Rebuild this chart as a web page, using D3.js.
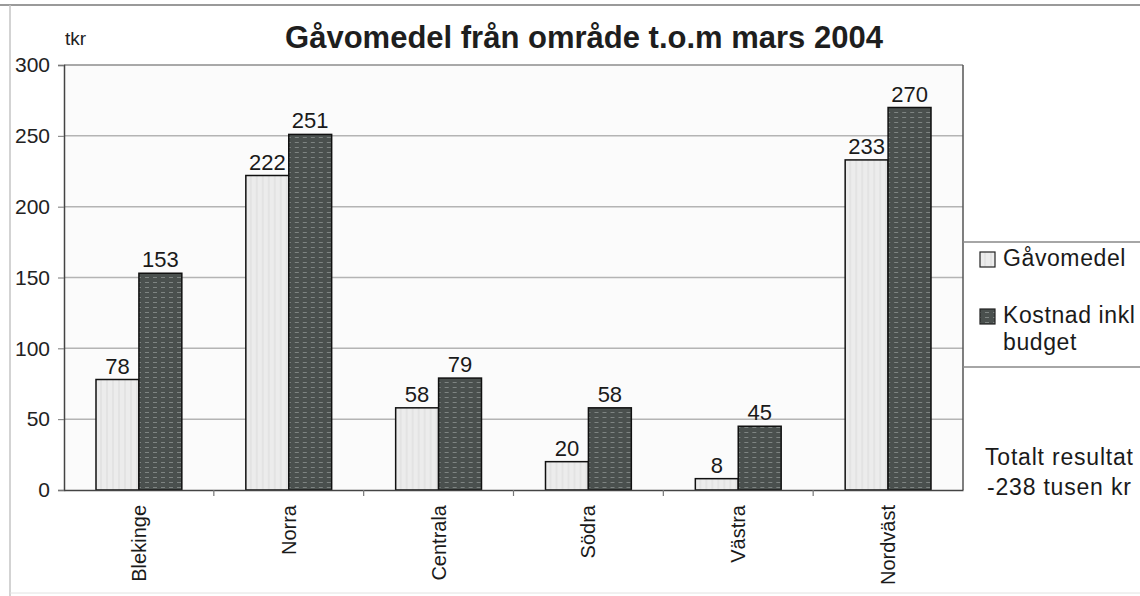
<!DOCTYPE html>
<html>
<head>
<meta charset="utf-8">
<script src="https://cdn.jsdelivr.net/npm/d3@7"></script>
<style>
  html, body { margin: 0; padding: 0; background: #ffffff; }
  svg { display: block; font-family: "Liberation Sans", Arial, Helvetica, sans-serif; }
</style>
</head>
<body>
<svg id="chart" width="1140" height="596"></svg>
<script>
const categories = ["Blekinge", "Norra", "Centrala", "Södra", "Västra", "Nordväst"];
const seriesNames = ["Gåvomedel", "Kostnad inkl budget"];
const gavomedel = [78, 222, 58, 20, 8, 233];
const kostnad = [153, 251, 79, 58, 45, 270];
const yTicks = [0, 50, 100, 150, 200, 250, 300];
const titleText = "Gåvomedel från område t.o.m mars 2004";
const unitText = "tkr";
const noteLines = ["Totalt resultat", "-238 tusen kr"];

const FONT = "'Liberation Sans', Arial, Helvetica, sans-serif";
const svg = d3.select("#chart");
const W = 1140, H = 596;
const plot = { left: 64, right: 963, top: 65, bottom: 490 };

const defs = svg.append("defs");
const pl = defs.append("pattern").attr("id", "pLight").attr("patternUnits", "userSpaceOnUse")
  .attr("width", 6).attr("height", 6);
pl.append("rect").attr("width", 6).attr("height", 6).attr("fill", "#ececec");
pl.append("rect").attr("x", 0).attr("width", 2).attr("height", 6).attr("fill", "#e3e3e3");
const pd = defs.append("pattern").attr("id", "pDark").attr("patternUnits", "userSpaceOnUse")
  .attr("width", 8).attr("height", 5);
pd.append("rect").attr("width", 8).attr("height", 5).attr("fill", "#4a504e");
pd.append("rect").attr("x", 1).attr("y", 2).attr("width", 4).attr("height", 1).attr("fill", "#7e8482");

// outer frame lines
svg.append("line").attr("x1", 0).attr("x2", W).attr("y1", 5).attr("y2", 5)
  .attr("stroke", "#9a9a9a").attr("stroke-width", 2);
svg.append("line").attr("x1", 10).attr("x2", 10).attr("y1", 5).attr("y2", H)
  .attr("stroke", "#c4c4c4").attr("stroke-width", 1.5);
svg.append("line").attr("x1", 10).attr("x2", W).attr("y1", 593).attr("y2", 593)
  .attr("stroke", "#e2e2e2").attr("stroke-width", 1);

const x0 = d3.scaleBand().domain(categories).range([plot.left, plot.right]).padding(0);
const x1 = d3.scaleBand().domain(seriesNames).range([32, x0.bandwidth() - 32]).padding(0);
const y = d3.scaleLinear().domain([0, 300]).range([plot.bottom, plot.top]);

svg.append("rect").attr("x", plot.left).attr("y", plot.top)
  .attr("width", plot.right - plot.left).attr("height", plot.bottom - plot.top)
  .attr("fill", "#fbfbfb");

svg.append("g").selectAll("line").data(yTicks.filter(d => d > 0)).join("line")
  .attr("x1", plot.left).attr("x2", plot.right)
  .attr("y1", d => y(d)).attr("y2", d => y(d))
  .attr("stroke", d => d === 300 ? "#8c8c8c" : "#b4b4b4").attr("stroke-width", 1.5);

svg.append("line").attr("x1", plot.right).attr("x2", plot.right)
  .attr("y1", plot.top).attr("y2", plot.bottom).attr("stroke", "#555").attr("stroke-width", 1.5);

const yAxis = d3.axisLeft(y).tickValues(yTicks).tickSize(6).tickPadding(8);
const gy = svg.append("g").attr("transform", `translate(${plot.left},0)`).call(yAxis)
  .attr("font-family", FONT);
gy.select(".domain").attr("stroke", "#444").attr("stroke-width", 1.5);
gy.selectAll(".tick line").attr("stroke", "#777");
gy.selectAll(".tick text").attr("font-size", 21).attr("fill", "#222");

const groups = svg.append("g").selectAll("g").data(categories).join("g")
  .attr("transform", d => `translate(${x0(d)},0)`);
groups.each(function (c, i) {
  const g = d3.select(this);
  const bd = [
    { s: seriesNames[0], v: gavomedel[i] },
    { s: seriesNames[1], v: kostnad[i] }
  ];
  g.selectAll("rect").data(bd).join("rect")
    .attr("x", d => x1(d.s)).attr("width", x1.bandwidth())
    .attr("y", d => y(d.v)).attr("height", d => y(0) - y(d.v))
    .attr("fill", d => d.s === seriesNames[0] ? "url(#pLight)" : "url(#pDark)")
    .attr("stroke", "#111").attr("stroke-width", 1.5);
  g.selectAll("text").data(bd).join("text")
    .attr("x", d => x1(d.s) + x1.bandwidth() / 2)
    .attr("y", d => y(d.v) - 6)
    .attr("text-anchor", "middle").attr("font-size", 22).attr("fill", "#1a1a1a")
    .text(d => d.v);
});

const xAxis = d3.axisBottom(x0).tickSize(0).tickPadding(0).tickFormat("");
const gx = svg.append("g").attr("transform", `translate(0,${plot.bottom})`).call(xAxis);
gx.select(".domain").attr("stroke", "#444").attr("stroke-width", 1.5);
svg.append("g").selectAll("line").data(categories.slice(1)).join("line")
  .attr("x1", d => x0(d)).attr("x2", d => x0(d))
  .attr("y1", plot.bottom).attr("y2", plot.bottom + 6)
  .attr("stroke", "#777").attr("stroke-width", 1.2);
svg.append("g").selectAll("text").data(categories).join("text")
  .attr("transform", d => `translate(${x0(d) + x0.bandwidth() / 2 + 7},505) rotate(-90)`)
  .attr("text-anchor", "end").attr("font-size", 20).attr("fill", "#1a1a1a")
  .text(d => d);

svg.append("text").attr("x", 584).attr("y", 48).attr("text-anchor", "middle")
  .attr("font-size", 31).attr("font-weight", "bold").attr("fill", "#1e1e1e")
  .text(titleText);
svg.append("text").attr("x", 65).attr("y", 45).attr("font-size", 19).attr("fill", "#222")
  .text(unitText);

svg.append("line").attr("x1", plot.right).attr("x2", W).attr("y1", 242).attr("y2", 242)
  .attr("stroke", "#888").attr("stroke-width", 1.5);
svg.append("line").attr("x1", plot.right).attr("x2", W).attr("y1", 367).attr("y2", 367)
  .attr("stroke", "#888").attr("stroke-width", 1.5);
const legendItems = [
  { lines: ["Gåvomedel"], fill: "url(#pLight)", y: 252 },
  { lines: ["Kostnad inkl", "budget"], fill: "url(#pDark)", y: 309 }
];
const lg = svg.append("g").selectAll("g").data(legendItems).join("g");
lg.append("rect").attr("x", 980).attr("y", d => d.y).attr("width", 15).attr("height", 15)
  .attr("fill", d => d.fill).attr("stroke", "#222").attr("stroke-width", 1.2);
lg.each(function (d) {
  const t = d3.select(this).append("text").attr("font-size", 23).attr("fill", "#1a1a1a")
    .attr("letter-spacing", 0.6);
  d.lines.forEach((ln, i) => {
    t.append("tspan").attr("x", 1003).attr("y", d.y + 14 + i * 27).text(ln);
  });
});

svg.append("g").selectAll("text").data(noteLines).join("text")
  .attr("x", (d, i) => i === 0 ? 985 : 987).attr("y", (d, i) => 465 + i * 30)
  .attr("font-size", 23).attr("fill", "#1a1a1a").attr("letter-spacing", 0.8)
  .text(d => d);
</script>
</body>
</html>
